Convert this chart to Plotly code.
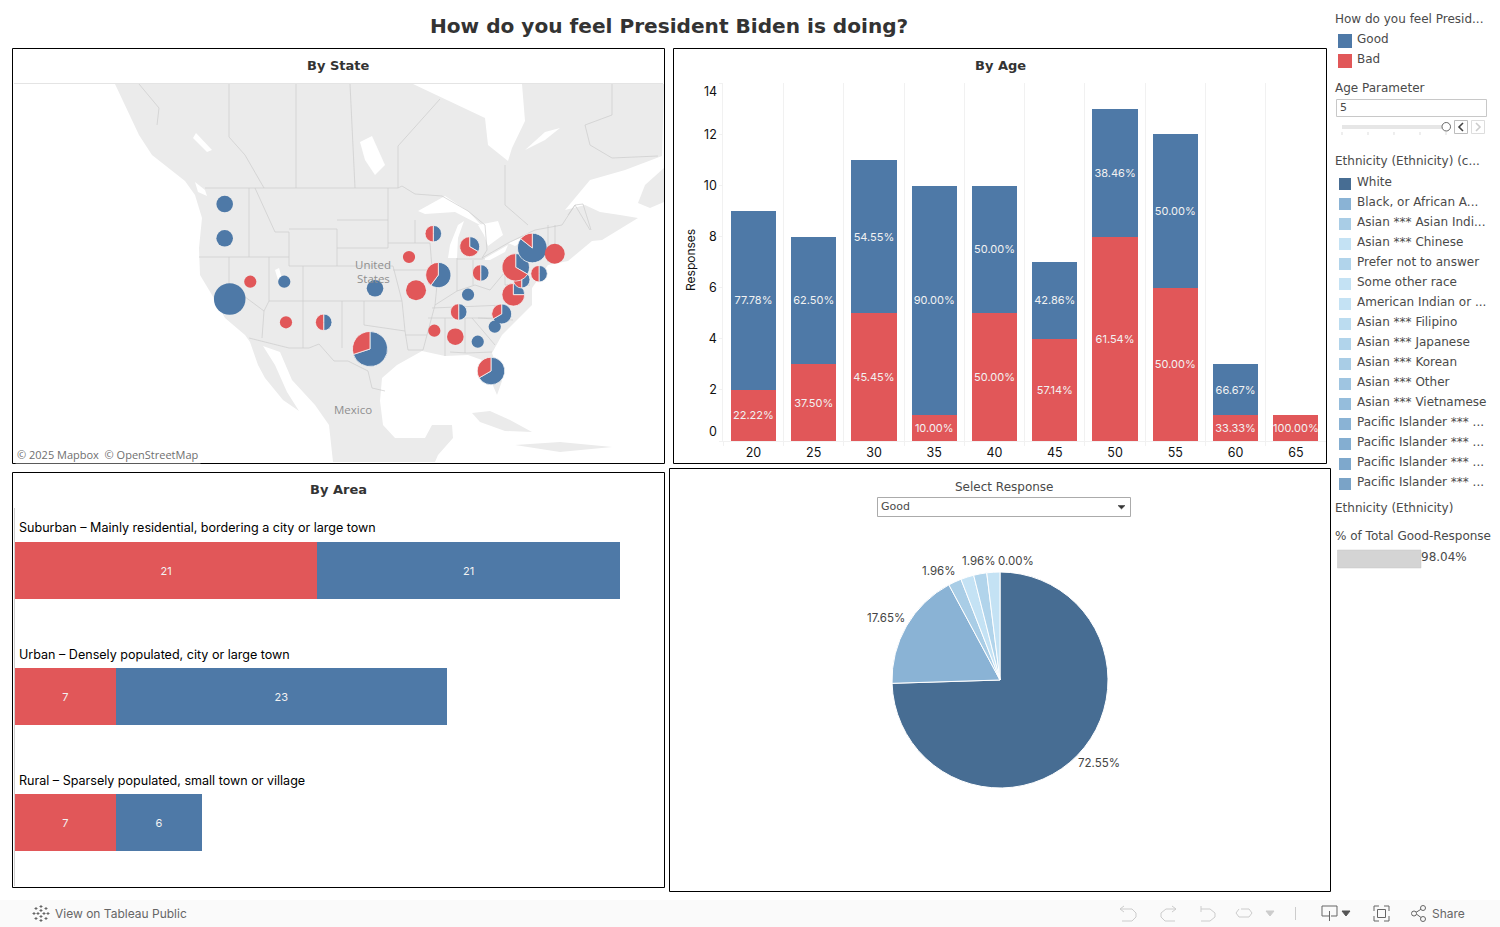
import plotly.graph_objects as go

W, H = 1500, 927

# ---------- DATA ----------
GOOD = "#4e79a7"
BAD = "#e15759"

ages = ["20", "25", "30", "35", "40", "45", "50", "55", "60", "65"]
age_bad = [2, 3, 5, 1, 5, 4, 8, 6, 1, 1]
age_good = [7, 5, 6, 9, 5, 3, 5, 6, 2, 0]
age_bad_pct = ["22.22%", "37.50%", "45.45%", "10.00%", "50.00%", "57.14%", "61.54%", "50.00%", "33.33%", "100.00%"]
age_good_pct = ["77.78%", "62.50%", "54.55%", "90.00%", "50.00%", "42.86%", "38.46%", "50.00%", "66.67%", ""]

areas = ["Suburban – Mainly residential, bordering a city or large town",
         "Urban – Densely populated, city or large town",
         "Rural – Sparsely populated, small town or village"]
area_bad = [21, 7, 7]
area_good = [21, 23, 6]

pie_labels = ["White", "Black, or African American", "Asian Indian", "Chinese", "Prefer not to answer", "Some other race"]
pie_values = [38, 9, 1, 1, 1, 1]
pie_colors = ["#476d93", "#8ab3d5", "#a9cde6", "#c4e2f4", "#b1d4eb", "#c4e2f4"]

states = ["WA", "OR", "NV", "UT", "CA", "AZ", "NM", "TX", "FL", "KS", "MO", "IA", "WI", "IL", "MI", "OH", "KY", "TN",
          "NC", "SC", "GA", "AL", "MS", "VA", "MD", "PA", "NY", "NJ", "MA"]
state_lon = [-120.49, -120.49, -116.77, -111.83, -119.76, -111.58, -106.10, -99.37, -81.78, -98.64, -92.68, -93.70,
             -90.17, -89.44, -84.88, -83.28, -85.12, -86.48, -80.23, -81.24, -83.71, -86.97, -90.02, -78.54, -77.32,
             -78.19, -75.78, -74.80, -72.52]
state_merc = [54.02, 49.04, 42.73, 42.73, 40.22, 36.83, 36.83, 32.95, 29.75, 41.77, 41.48, 46.32, 49.71, 43.70, 47.82,
              44.00, 40.84, 38.33, 38.04, 36.19, 34.01, 34.74, 35.61, 40.84, 43.02, 44.82, 47.63, 43.89, 46.80]
state_good = [2, 2, 0, 1, 8, 0, 1, 7, 4, 2, 0, 0, 1, 3, 1, 1, 1, 1, 2, 1, 1, 0, 0, 1, 1, 2, 6, 1, 0]
state_bad = [0, 0, 1, 0, 0, 1, 1, 3, 2, 0, 3, 1, 1, 2, 2, 1, 0, 1, 1, 0, 0, 2, 1, 3, 1, 4, 1, 1, 3]

legend_response = [("Good", GOOD), ("Bad", BAD)]
legend_ethnicity = [("White", "#476d93"), ("Black, or African A...", "#8ab3d5"), ("Asian *** Asian Indi...", "#a9cde6"),
                    ("Asian *** Chinese", "#c4e2f4"), ("Prefer not to answer", "#b1d4eb"), ("Some other race", "#c4e2f4"),
                    ("American Indian or ...", "#c4e2f4"), ("Asian *** Filipino", "#bbdcf0"), ("Asian *** Japanese", "#b1d4eb"),
                    ("Asian *** Korean", "#a9cde6"), ("Asian *** Other", "#9fc5e1"), ("Asian *** Vietnamese", "#95bddc"),
                    ("Pacific Islander *** ...", "#8ab3d5"), ("Pacific Islander *** ...", "#84aed1"),
                    ("Pacific Islander *** ...", "#7ea8cc"), ("Pacific Islander *** ...", "#7aa3c7")]

# Basemap outlines (decorative background, in map-panel pixels)
land = [[(115, 84), (125, 105), (139, 135), (152, 155), (172, 171), (185, 181), (195, 195), (202, 218), (199, 248), (200, 275),
         (212, 295), (225, 318), (245, 335), (250, 342), (258, 365), (265, 378), (283, 400), (299, 411), (287, 392), (275, 365),
         (263, 346), (280, 352), (292, 380), (315, 405), (329, 425), (333, 462), (435, 462), (438, 455), (453, 438), (452, 425),
         (432, 425), (425, 438), (395, 438), (383, 425), (380, 401), (382, 378), (397, 365), (422, 351), (445, 356), (468, 355),
         (482, 360), (497, 395), (502, 381), (492, 353), (502, 335), (532, 305), (532, 288), (548, 265), (568, 261), (592, 241),
         (602, 240), (638, 218), (620, 215), (600, 212), (585, 205), (565, 210), (590, 180), (625, 170), (662, 156), (664, 84)],
        [(638, 203), (645, 185), (664, 168), (664, 202), (650, 208)],
        [(472, 413), (490, 411), (510, 420), (532, 432), (505, 431), (480, 422)],
        [(515, 445), (560, 442), (612, 447), (560, 452)]]
water = [[(413, 84), (442, 98), (485, 118), (488, 145), (508, 161), (512, 148), (525, 121), (522, 84)],
         [(418, 211), (445, 196), (468, 211), (482, 226), (455, 212), (425, 214)],
         [(448, 258), (450, 245), (458, 225), (464, 221), (458, 238), (457, 258)],
         [(478, 225), (498, 221), (503, 235), (488, 246), (484, 235)],
         [(482, 260), (500, 250), (508, 245), (505, 252), (490, 260)],
         [(508, 243), (530, 234), (534, 237), (515, 246)],
         [(360, 142), (372, 136), (385, 165), (375, 175), (365, 160)],
         [(196, 133), (212, 150), (207, 152), (193, 138)],
         [(275, 270), (279, 268), (283, 282), (278, 280)],
         [(195, 182), (205, 190), (207, 196), (198, 192)],
         [(525, 150), (545, 132), (560, 128), (545, 140)]]
borders = [[(205, 188), (398, 188), (402, 186), (415, 194), (442, 196), (468, 211), (485, 225), (487, 250), (482, 258), (508, 243), (535, 230), (562, 225), (575, 205), (583, 204), (591, 230)],
           [(249, 188), (249, 257)], [(199, 257), (289, 257)], [(269, 257), (269, 301), (264, 311), (229, 285), (229, 257)], [(264, 311), (262, 338)],
           [(249, 338), (289, 348), (309, 348), (319, 344), (334, 361), (348, 361), (368, 371), (372, 388), (385, 391)],
           [(269, 301), (402, 301), (405, 331), (408, 350), (423, 350)], [(303, 266), (303, 348)], [(289, 229), (337, 229), (337, 266), (289, 266), (289, 232), (275, 232), (255, 188)],
           [(337, 220), (388, 220)], [(337, 248), (388, 248)], [(337, 266), (393, 266), (402, 301)], [(342, 301), (342, 348)], [(364, 301), (364, 325), (405, 331)],
           [(405, 335), (427, 335)], [(428, 318), (492, 318)], [(432, 308), (505, 305)], [(435, 305), (427, 335), (423, 350)],
           [(388, 188), (388, 248)], [(388, 243), (430, 243), (432, 268), (437, 285), (435, 305)], [(393, 270), (432, 270)], [(415, 220), (415, 243)],
           [(457, 258), (457, 291)], [(473, 260), (473, 285)], [(435, 305), (457, 291), (475, 285), (490, 290), (505, 272)], [(457, 259), (485, 259)],
           [(505, 262), (505, 285), (530, 285)], [(505, 262), (535, 258)], [(450, 352), (467, 353), (492, 352)], [(465, 318), (465, 353)], [(445, 318), (445, 356)],
           [(472, 318), (495, 345)], [(478, 318), (513, 320)],
           [(296, 84), (296, 188)], [(229, 84), (229, 137), (245, 155), (264, 188)], [(350, 84), (355, 188)], [(398, 188), (398, 146), (440, 99)],
           [(505, 165), (505, 205), (528, 225)], [(139, 84), (159, 108), (157, 125)], [(612, 84), (612, 115), (585, 125), (590, 145), (612, 158), (658, 156)],
           [(568, 215), (575, 205), (590, 230)], [(555, 225), (555, 250)], [(548, 225), (548, 262)]]

# ---------- FIGURE ----------
fig = go.Figure()


def fx(x):
    return x / W


def fy(y):
    return 1 - y / H


# --- map basemap ---
for poly in land:
    fig.add_trace(go.Scatter(x=[p[0] for p in poly], y=[p[1] for p in poly], mode="lines", fill="toself",
                             fillcolor="#ebebeb", line=dict(width=0), xaxis="x3", yaxis="y3", hoverinfo="skip", showlegend=False))
for poly in water:
    fig.add_trace(go.Scatter(x=[p[0] for p in poly], y=[p[1] for p in poly], mode="lines", fill="toself",
                             fillcolor="#ffffff", line=dict(width=0), xaxis="x3", yaxis="y3", hoverinfo="skip", showlegend=False))
for line in borders:
    fig.add_trace(go.Scatter(x=[p[0] for p in line], y=[p[1] for p in line], mode="lines",
                             line=dict(width=0.7, color="#cbcbcb"), xaxis="x3", yaxis="y3", hoverinfo="skip", showlegend=False))

# --- state pies, placed by web-mercator projection of each state's position ---
MAP_X0, MAP_Y0, MAP_SCALE, REF_LON, REF_MERC = 248.7, 188.0, 6.88, -117.0, 56.35
UNIT_R = 5.3
for st, lon, merc, g, b in zip(states, state_lon, state_merc, state_good, state_bad):
    cx = MAP_X0 + MAP_SCALE * (lon - REF_LON)
    cy = MAP_Y0 + MAP_SCALE * (REF_MERC - merc)
    r = UNIT_R * (g + b) ** 0.5 + 0.8
    parts = [(v, n, c) for v, n, c in zip([g, b], ["Good", "Bad"], [GOOD, BAD]) if v > 0]
    fig.add_trace(go.Pie(values=[p[0] for p in parts], labels=[p[1] for p in parts], name=st, sort=False,
                         direction="clockwise", rotation=0,
                         marker=dict(colors=[p[2] for p in parts], line=dict(color="#f4f4f4", width=0.8 if len(parts) > 1 else 0)),
                         textinfo="none", showlegend=False, hoverinfo="label+value",
                         domain=dict(x=[fx(cx - r), fx(cx + r)], y=[fy(cy + r), fy(cy - r)])))

# --- By Age stacked bars ---
BAR_TXT = dict(family="Inter", size=11, color="#f2f2f2")
fig.add_trace(go.Bar(x=ages, y=age_bad, text=age_bad_pct, marker=dict(color=BAD, line=dict(width=0)), textposition="inside",
                     insidetextanchor="middle", textangle=0, constraintext="none", textfont=BAR_TXT, showlegend=False, name="Bad"))
fig.add_trace(go.Bar(x=ages, y=age_good, text=age_good_pct, marker=dict(color=GOOD, line=dict(width=0)), textposition="inside",
                     insidetextanchor="middle", textangle=0, constraintext="none", textfont=BAR_TXT, showlegend=False, name="Good"))

# --- By Area stacked bars ---
fig.add_trace(go.Bar(y=areas, x=area_bad, orientation="h", text=area_bad, marker=dict(color=BAD, line=dict(width=0)), textposition="inside",
                     insidetextanchor="middle", textangle=0, constraintext="none", textfont=BAR_TXT, xaxis="x2", yaxis="y2", showlegend=False, name="Bad"))
fig.add_trace(go.Bar(y=areas, x=area_good, orientation="h", text=area_good, marker=dict(color=GOOD, line=dict(width=0)), textposition="inside",
                     insidetextanchor="middle", textangle=0, constraintext="none", textfont=BAR_TXT, xaxis="x2", yaxis="y2", showlegend=False, name="Good"))

# --- Ethnicity pie ---
PCX, PCY, PR = 1000, 680, 108
fig.add_trace(go.Pie(values=pie_values, labels=pie_labels, sort=False, direction="clockwise", rotation=0,
                     marker=dict(colors=pie_colors, line=dict(color="#ffffff", width=1)), textinfo="none", showlegend=False,
                     domain=dict(x=[fx(PCX - PR), fx(PCX + PR)], y=[fy(PCY + PR), fy(PCY - PR)])))

annotations = []
shapes = []


def text(x, y, s, size=12, color="#4a4a4a", anchor="left", family="DejaVu Sans", bold=False, bg=None):
    dx = -2 if anchor == "left" else (2 if anchor == "right" else 0)
    a = dict(x=fx(x + dx), y=fy(y + 0.4), xref="paper", yref="paper", text=f"<b>{s}</b>" if bold else s, showarrow=False,
             xanchor=anchor, yanchor="middle", font=dict(family=family, size=size, color=color), align=anchor)
    if bg:
        a["bgcolor"] = bg
    annotations.append(a)


def rect(x0, y0, x1, y1, line=None, fill=None, width=1, layer="above"):
    shapes.append(dict(type="rect", xref="paper", yref="paper", x0=fx(x0), x1=fx(x1), y0=fy(y0), y1=fy(y1), layer=layer,
                       line=dict(color=line or "rgba(0,0,0,0)", width=width if line else 0), fillcolor=fill or "rgba(0,0,0,0)"))


def seg(pts, color="#bbbbbb", width=1, fill=None):
    d = "M" + "L".join(f"{fx(x):.5f},{fy(y):.5f}" for x, y in pts)
    if fill:
        d += "Z"
    shapes.append(dict(type="path", xref="paper", yref="paper", path=d, line=dict(color=color, width=width), layer="above",
                       fillcolor=fill or "rgba(0,0,0,0)"))


# frames
for x0, y0, x1, y1 in [(12.5, 48.5, 664.5, 463.5), (673.5, 48.5, 1326.5, 463.5), (12.5, 472.5, 664.5, 887.5), (669.5, 468.5, 1330.5, 891.5)]:
    rect(x0, y0, x1, y1, line="#000000", width=1)
seg([(14, 83.5), (663, 83.5)], "#e4e4e4")

# titles
text(669, 26, "How do you feel President Biden is doing?", 20.1, "#333333", "center", bold=True)
text(338, 65, "By State", 13, "#333333", "center", bold=True)
text(1000, 65, "By Age", 13, "#333333", "center", bold=True)
text(338, 489, "By Area", 13, "#333333", "center", bold=True)

# map text
text(373, 264, "United", 11.5, "#8f8f8f", "center", "Open Sans")
text(373, 278, "States", 11.5, "#8f8f8f", "center", "Open Sans")
text(353, 409, "Mexico", 11.5, "#8f8f8f", "center", "Open Sans")
text(17, 454, "© 2025 Mapbox  © OpenStreetMap", 11, "#6f6f6f", "left", "Open Sans", bg="rgba(255,255,255,0.7)")

# By Age axis extras
annotations.append(dict(x=fx(690), y=fy(260), xref="paper", yref="paper", text="Responses", textangle=-90, showarrow=False,
                        xanchor="center", yanchor="middle", font=dict(family="Inter", size=12, color="#111111")))
text(717, 91, "14", 12.5, "#111111", "right", "Inter")
text(717, 431, "0", 12.5, "#111111", "right", "Inter")

# By Area labels
for name, y in zip(areas, [527, 654, 780]):
    text(19, y, name, 12.55, "#000000", "left", "Inter")

# Pie labels
for s, x, y in [("72.55%", 1099, 763), ("17.65%", 886, 618), ("1.96%", 938, 571), ("1.96%", 978, 561), ("0.00%", 1016, 561)]:
    text(x, y, s, 11.5, "#444444", "center", "Inter")

# Dropdown
text(1004, 487, "Select Response", 12, "#4a4a4a", "center")
rect(877.5, 497.5, 1130.5, 516.5, line="#ababab")
text(881, 506, "Good", 11, "#4a4a4a")
seg([(1118, 505.5), (1125, 505.5), (1121.5, 509)], "#333333", 0.5, fill="#333333")

# Sidebar
text(1335, 18.5, "How do you feel Presid...", 12)
for i, (s, c) in enumerate(legend_response):
    y = 39 + 20 * i
    text(1357, y, s, 12)
    rect(1338, y - 5, 1352, y + 9, fill=c)
text(1335, 88, "Age Parameter", 12)
rect(1336.5, 99.5, 1486.5, 116.5, line="#c8c8c8")
text(1340, 107, "5", 11)
rect(1342, 125, 1446, 129, fill="#e6e6e6")
for tx in [1342, 1368, 1394, 1420, 1446]:
    seg([(tx, 132), (tx, 135)], "#dddddd")
shapes.append(dict(type="circle", xref="paper", yref="paper", x0=fx(1442), x1=fx(1450.5), y0=fy(131), y1=fy(122.5),
                   line=dict(color="#666666", width=1), fillcolor="#ffffff", layer="above"))
rect(1454.5, 120.5, 1467.5, 133.5, line="#bdbdbd")
rect(1471.5, 120.5, 1484.5, 133.5, line="#dddddd")
seg([(1463, 123), (1459, 127), (1463, 131)], "#444444", 1.6)
seg([(1476, 123), (1480, 127), (1476, 131)], "#cccccc", 1.6)
text(1335, 161, "Ethnicity (Ethnicity) (c...", 12)
for i, (s, c) in enumerate(legend_ethnicity):
    y = 181.5 + 20 * i
    text(1357, y, s, 12)
    rect(1339, y - 3.5, 1351, y + 8.5, fill=c)
text(1335, 508, "Ethnicity (Ethnicity)", 12)
text(1335, 536, "% of Total Good-Response", 12)
rect(1337.5, 550, 1421, 568, fill="#d4d4d4", line="#c4c4c4", width=0.5)
text(1420.5, 556.5, "98.04%", 12)

# Toolbar
rect(0, 900, 1500, 927, fill="#fafafa", layer="below")
text(55, 913.5, "View on Tableau Public", 12, "#666666", "left", "Inter")
text(1432, 913.5, "Share", 12, "#666666", "left", "Inter", bold=False)
for dx, dy in [(0, -7), (0, 7), (-7, 0), (7, 0), (-5, -5), (5, -5), (-5, 5), (5, 5), (-3, 0), (3, 0), (0, -3), (0, 3)]:
    rx = 41 + dx
    ry = 913.5 + dy
    seg([(rx - 1.5, ry), (rx + 1.5, ry)], "#666666", 1)
    seg([(rx, ry - 1.5), (rx, ry + 1.5)], "#666666", 1)
# toolbar icons
seg([(1124, 906), (1120, 909), (1124, 912)], "#cccccc")
seg([(1120, 909), (1132, 909), (1136, 913), (1136, 917), (1132, 921), (1122, 921)], "#cccccc")
seg([(1172, 906), (1176, 909), (1172, 912)], "#cccccc")
seg([(1176, 909), (1166, 909), (1161, 913), (1161, 917), (1165, 921), (1175, 921)], "#cccccc")
seg([(1201, 906), (1201, 912)], "#cccccc")
seg([(1201, 909), (1210, 909), (1215, 913), (1215, 917), (1210, 921), (1201, 921)], "#cccccc")
seg([(1241, 909), (1249, 909), (1252, 913), (1249, 917), (1239, 917), (1236, 913), (1239, 909)], "#cccccc")
seg([(1266, 911), (1274, 911), (1270, 916)], "#cccccc", 1, fill="#cccccc")
seg([(1295.5, 907), (1295.5, 920)], "#cccccc")
seg([(1329, 916), (1322, 916), (1322, 906), (1337, 906), (1337, 916), (1331, 916)], "#666666")
seg([(1329.5, 911), (1329.5, 921)], "#666666")
seg([(1342, 911), (1350, 911), (1346, 916)], "#555555", 1, fill="#555555")
rect(1377.5, 909.5, 1385.5, 917.5, line="#666666")
for a, b, c in [((1374, 911), (1374, 906), (1379, 906)), ((1384, 906), (1389, 906), (1389, 911)),
                ((1389, 916), (1389, 921), (1384, 921)), ((1379, 921), (1374, 921), (1374, 916))]:
    seg([a, b, c], "#666666")
seg([(1415, 913), (1423, 908)], "#666666")
seg([(1415, 913), (1423, 919)], "#666666")
for cx, cy, r in [(1414, 913.5, 2.5), (1423, 908, 2.5), (1423, 919, 2.5)]:
    shapes.append(dict(type="circle", xref="paper", yref="paper", x0=fx(cx - r), x1=fx(cx + r), y0=fy(cy + r), y1=fy(cy - r),
                       line=dict(color="#666666", width=1), fillcolor="#fafafa", layer="above"))

AGE_TICK = dict(family="Inter", size=12.5, color="#111111")
Y_SCALE = 25.55
fig.update_layout(
    width=W, height=H, autosize=False, margin=dict(l=0, r=0, t=0, b=0), paper_bgcolor="#ffffff", plot_bgcolor="rgba(0,0,0,0)",
    barmode="stack", bargap=0.25, showlegend=False, annotations=annotations, shapes=shapes, font=dict(family="DejaVu Sans"),
    xaxis=dict(domain=[fx(723.3), fx(1326)], type="category", categoryorder="array", categoryarray=ages, tickson="boundaries",
               showgrid=True, gridcolor="#f1f1f1", gridwidth=1, ticks="outside", ticklen=4, tickcolor="#f1f1f1",
               showline=True, linecolor="#f1f1f1", tickfont=AGE_TICK, zeroline=False, fixedrange=True),
    yaxis=dict(domain=[fy(441), fy(83)], anchor="x", range=[0, (441 - 83) / Y_SCALE], tickmode="array", tickvals=[0, 2, 4, 6, 8, 10, 12, 14],
               ticktext=["", "2", "4", "6", "8", "10", "12", ""], ticks="outside", ticklen=3, tickcolor="#f1f1f1", showline=True, linecolor="#f1f1f1",
               showgrid=False, zeroline=False, tickfont=AGE_TICK, fixedrange=True),
    xaxis2=dict(domain=[fx(15), fx(663)], anchor="y2", range=[0, 648 / 14.4], visible=False, fixedrange=True),
    yaxis2=dict(domain=[fy(885.5), fy(507.5)], anchor="x2", type="category", categoryorder="array", categoryarray=areas[::-1],
                showticklabels=False, ticks="", showgrid=False, zeroline=False, showline=True, linecolor="#cfcfcf", fixedrange=True),
    xaxis3=dict(domain=[fx(14), fx(664)], anchor="y3", range=[14, 664], visible=False, fixedrange=True),
    yaxis3=dict(domain=[fy(462), fy(84)], anchor="x3", range=[462, 84], visible=False, fixedrange=True),
)
fig.for_each_trace(lambda t: t.update(width=0.452) if t.type == "bar" and t.orientation == "h" else None)
fig.write_html("out.html", config=dict(displayModeBar=False),
               post_script="document.body.style.margin='0';document.documentElement.style.overflow='hidden';")
